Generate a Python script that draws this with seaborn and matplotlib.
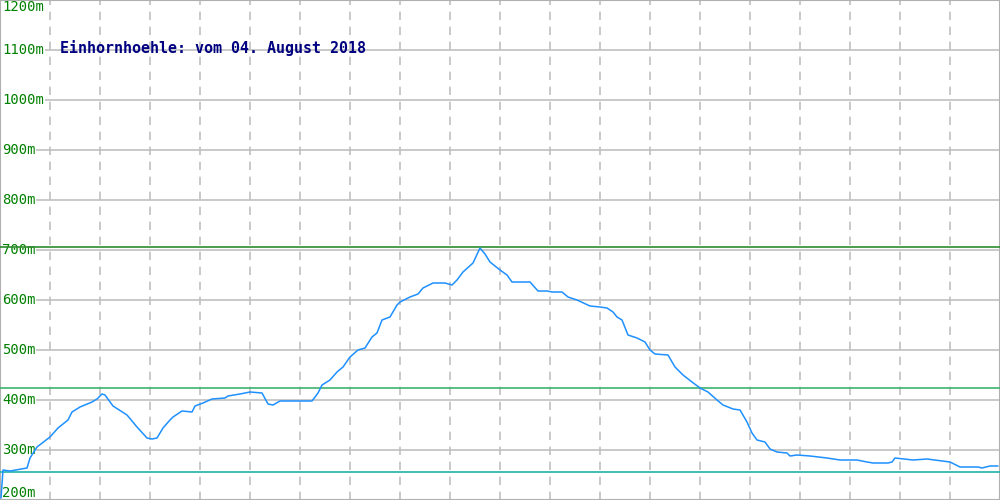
import pandas as pd
import matplotlib
matplotlib.use("Agg")
import matplotlib.pyplot as plt
import seaborn as sns

# Profile data (horizontal position, elevation in m)
dist = [1, 3, 10, 27, 30, 37, 50, 58, 68, 72, 80, 92, 97, 102, 105, 113, 127, 137,
        147, 152, 157, 163, 170, 173, 182, 192, 195, 203, 212, 225, 228, 240, 250,
        262, 268, 273, 280, 297, 312, 318, 322, 330, 337, 343, 350, 358, 365, 372,
        377, 382, 390, 397, 400, 410, 418, 423, 433, 445, 452, 457, 463, 473, 480,
        485, 490, 500, 507, 512, 530, 538, 547, 552, 562, 568, 577, 590, 600, 607,
        613, 617, 622, 628, 637, 645, 650, 655, 668, 675, 683, 692, 700, 708, 717,
        723, 733, 740, 747, 752, 757, 765, 770, 777, 787, 790, 797, 810, 827, 840,
        857, 867, 873, 888, 892, 895, 913, 927, 950, 960, 978, 982, 990, 998]
elev = [204, 260, 258, 264, 284, 306, 326, 344, 360, 376, 386, 396, 402, 412, 410,
        388, 370, 346, 324, 322, 324, 344, 360, 366, 378, 376, 388, 394, 402, 404,
        408, 412, 416, 414, 392, 390, 398, 398, 398, 414, 430, 440, 456, 466, 486,
        500, 504, 526, 534, 560, 566, 590, 596, 606, 612, 624, 634, 634, 630, 640,
        656, 674, 704, 692, 676, 660, 650, 636, 636, 618, 618, 616, 616, 606, 600,
        588, 586, 584, 576, 566, 560, 530, 524, 516, 500, 492, 490, 466, 450, 436,
        424, 416, 400, 390, 382, 380, 356, 334, 320, 316, 302, 296, 294, 288, 290,
        288, 284, 280, 280, 276, 274, 274, 276, 284, 280, 282, 276, 266, 266, 264,
        268, 268]

y_ticks = [200, 300, 400, 500, 600, 700, 800, 900, 1000, 1100, 1200]
x_grid = list(range(50, 1000, 50))
ref_levels = [706, 424, 256]
ref_colors = ["#2e8b2e", "#3cb371", "#20b2aa"]
title = "Einhornhoehle: vom 04. August 2018"

df = pd.DataFrame({"dist": dist, "elev": elev})

sns.set_style("white")
plt.rcParams["font.family"] = ["DejaVu Sans Mono", "DejaVu Sans"]

fig = plt.figure(figsize=(10, 5), dpi=100)
ax = fig.add_axes([0, 0, 1, 1])

# grid
for v in y_ticks:
    ax.axhline(v, color="#c0c0c0", lw=1.2, zorder=1)
for x in x_grid:
    ax.axvline(x, color="#c0c0c0", lw=1.2, ls=(0, (5, 4)), zorder=1)

# tick labels inside the plot (top and bottom ones kept inside the frame)
for v in y_ticks:
    va = "center"
    if v == y_ticks[-1]:
        va = "top"
    elif v == y_ticks[0]:
        va = "bottom"
    ax.text(2, v, f"{v}m", color="#008000", fontsize=10, va=va, ha="left",
            zorder=2, bbox=dict(facecolor="white", edgecolor="none", pad=0.5))

# reference lines
for lvl, c in zip(ref_levels, ref_colors):
    ax.axhline(lvl, color=c, lw=1.2, zorder=3)

sns.lineplot(data=df, x="dist", y="elev", color="#1e90ff", lw=1.1, ax=ax, zorder=4)

ax.text(60, 1104, title, color="#000080", fontsize=10.8, fontweight="bold",
        va="center", ha="left", zorder=5)

ax.set_xlim(0, 1000)
ax.set_ylim(200, 1200)
ax.set_xticks([])
ax.set_yticks([])
ax.set_xlabel("")
ax.set_ylabel("")
for s in ax.spines.values():
    s.set_color("#b0b0b0")
    s.set_linewidth(1.5)

fig.savefig("out.png", dpi=100)
